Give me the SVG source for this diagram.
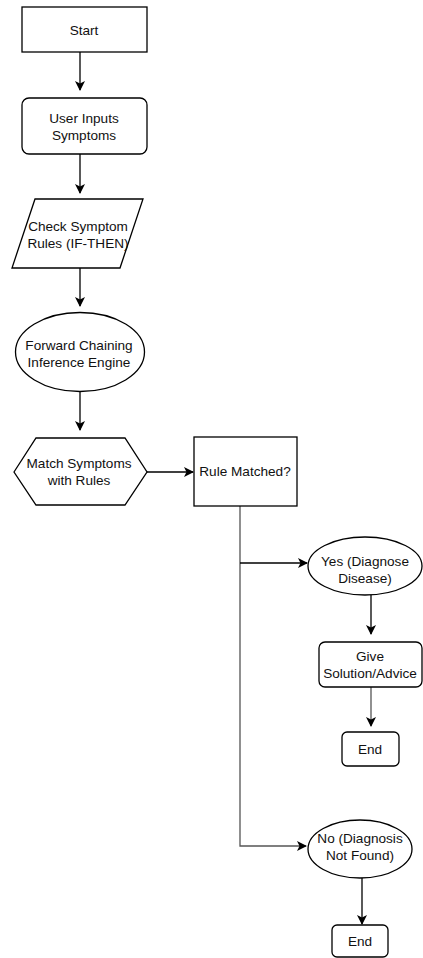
<svg xmlns="http://www.w3.org/2000/svg" width="423" height="958" viewBox="0 0 423 958">
<style>
.s{fill:#fff;stroke:#000;stroke-width:1.3}
.t{font-family:"Liberation Sans",Arial,sans-serif;font-size:13.6px;fill:#111;text-anchor:middle}
.c{fill:none;stroke:#000;stroke-width:1.3}
.g{fill:none;stroke:#555;stroke-width:1.3}
</style>
<defs>
<marker id="a" viewBox="0 0 10 10" refX="9" refY="5" markerWidth="10" markerHeight="10" markerUnits="userSpaceOnUse" orient="auto">
<path d="M0,0 L10,5 L0,10 L2.5,5 Z" fill="#000"/>
</marker>
</defs>
<rect width="423" height="958" fill="#fff"/>
<g id="connectors">
<line class="c" x1="80" y1="52" x2="80" y2="90" marker-end="url(#a)"/>
<line class="c" x1="80" y1="154" x2="80" y2="193" marker-end="url(#a)"/>
<line class="c" x1="80" y1="268" x2="80" y2="306" marker-end="url(#a)"/>
<line class="c" x1="80" y1="392" x2="80" y2="430" marker-end="url(#a)"/>
<line class="c" x1="147" y1="472" x2="193" y2="472" marker-end="url(#a)"/>
<path class="g" d="M240,506 L240,846 L306,846" marker-end="url(#a)"/>
<line class="c" x1="240" y1="563" x2="307" y2="563" marker-end="url(#a)"/>
<line class="c" x1="371" y1="595" x2="371" y2="634" marker-end="url(#a)"/>
<line class="g" x1="371" y1="687" x2="371" y2="726" marker-end="url(#a)"/>
<line class="c" x1="362" y1="878" x2="362" y2="924" marker-end="url(#a)"/>
</g>
<g id="start">
<rect class="s" x="22" y="7" width="125" height="45"/>
<text class="t" x="84" y="35">Start</text>
</g>
<g id="user-inputs">
<rect class="s" x="22" y="98" width="125" height="56" rx="7"/>
<text class="t" x="84" y="123">User Inputs</text>
<text class="t" x="84" y="140">Symptoms</text>
</g>
<g id="check-rules">
<polygon class="s" points="35,199 143,199 120,268 12,268"/>
<text class="t" x="78" y="231">Check Symptom</text>
<text class="t" x="78" y="248">Rules (IF-THEN)</text>
</g>
<g id="inference">
<ellipse class="s" cx="80" cy="352" rx="64.5" ry="39.5"/>
<text class="t" x="79" y="350">Forward Chaining</text>
<text class="t" x="79" y="367">Inference Engine</text>
</g>
<g id="match">
<polygon class="s" points="14,472 36,438 125,438 147,472 125,505 36,505"/>
<text class="t" x="79" y="468">Match Symptoms</text>
<text class="t" x="79" y="485">with Rules</text>
</g>
<g id="rule-matched">
<rect class="s" x="194" y="437" width="103" height="69"/>
<text class="t" x="245" y="476">Rule Matched?</text>
</g>
<g id="yes">
<ellipse class="s" cx="365" cy="566" rx="57" ry="29"/>
<text class="t" x="365" y="566">Yes (Diagnose</text>
<text class="t" x="365" y="583">Disease)</text>
</g>
<g id="advice">
<rect class="s" x="319" y="642" width="103" height="45" rx="6"/>
<text class="t" x="370" y="661">Give</text>
<text class="t" x="370" y="678">Solution/Advice</text>
</g>
<g id="end1">
<rect class="s" x="342" y="732" width="57" height="34" rx="5"/>
<text class="t" x="370" y="754">End</text>
</g>
<g id="no">
<ellipse class="s" cx="360" cy="849" rx="52" ry="29"/>
<text class="t" x="360" y="843">No (Diagnosis</text>
<text class="t" x="360" y="860">Not Found)</text>
</g>
<g id="end2">
<rect class="s" x="332" y="925" width="56" height="32" rx="5"/>
<text class="t" x="360" y="946">End</text>
</g>
</svg>
